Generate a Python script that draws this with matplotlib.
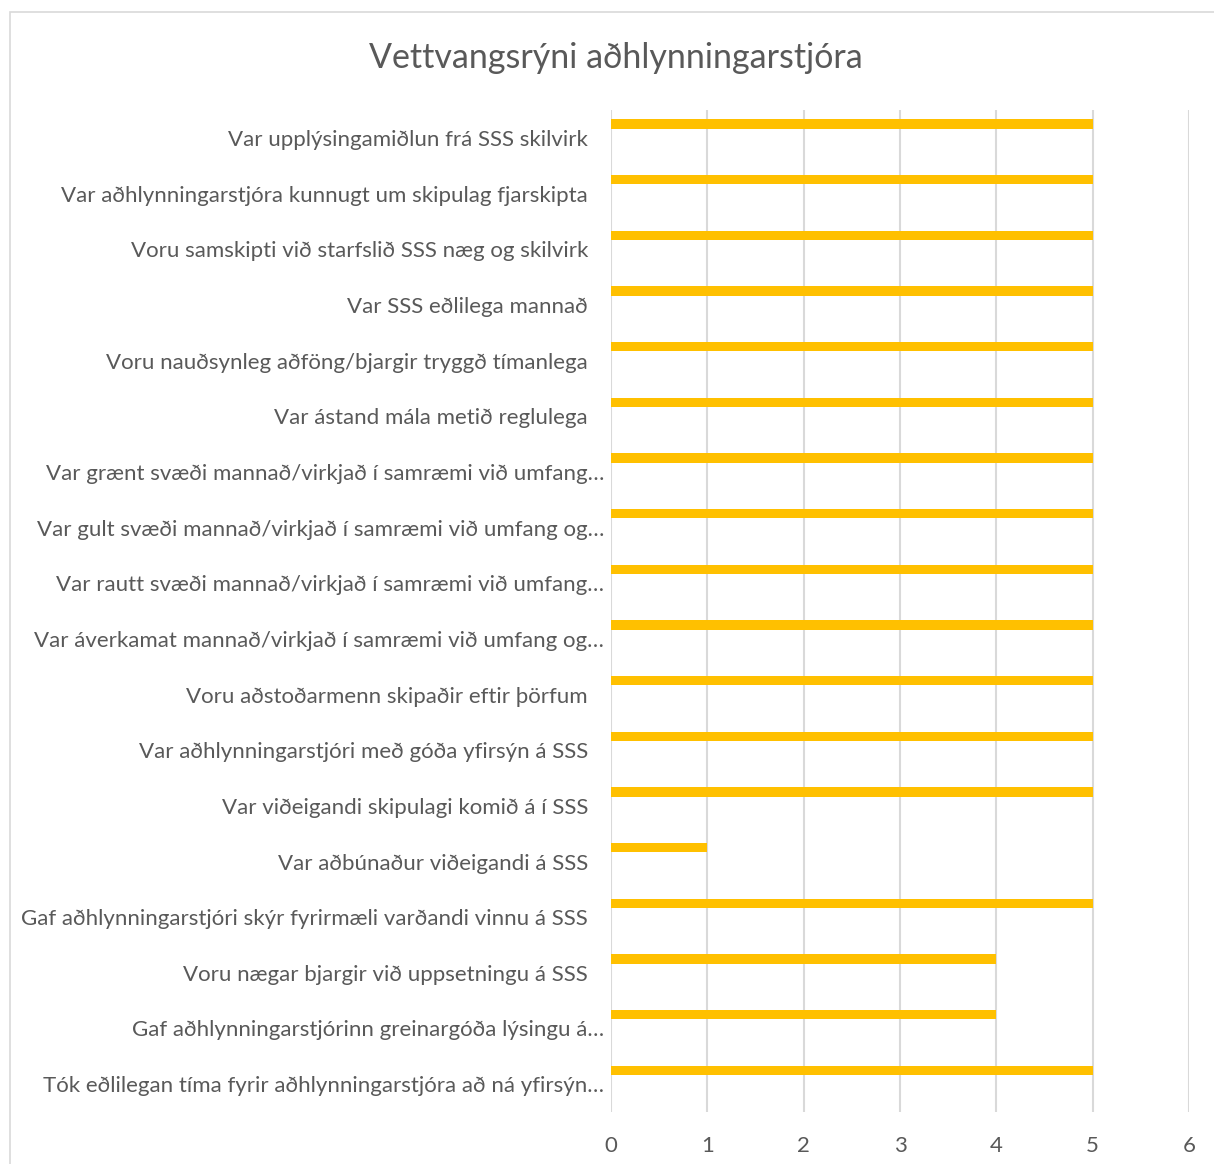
"""Horizontal bar chart: Vettvangsrýni aðhlynningarstjóra"""

import matplotlib.pyplot as plt
from matplotlib.patches import Rectangle
from matplotlib.transforms import ScaledTranslation

plt.rcParams['font.family'] = ['Lato', 'DejaVu Sans']

TITLE = "Vettvangsrýni aðhlynningarstjóra"

# questions, top to bottom as shown in the chart
QUESTIONS = [
    "Var upplýsingamiðlun frá SSS skilvirk",
    "Var aðhlynningarstjóra kunnugt um skipulag fjarskipta",
    "Voru samskipti við starfslið SSS næg og skilvirk",
    "Var SSS eðlilega mannað",
    "Voru nauðsynleg aðföng/bjargir tryggð tímanlega",
    "Var ástand mála metið reglulega",
    "Var grænt svæði mannað/virkjað í samræmi við umfang…",
    "Var gult svæði mannað/virkjað í samræmi við umfang og…",
    "Var rautt svæði mannað/virkjað í samræmi við umfang…",
    "Var áverkamat mannað/virkjað í samræmi við umfang og…",
    "Voru aðstoðarmenn skipaðir eftir þörfum",
    "Var aðhlynningarstjóri með góða yfirsýn á SSS",
    "Var viðeigandi skipulagi komið á í SSS",
    "Var aðbúnaður viðeigandi á SSS",
    "Gaf aðhlynningarstjóri skýr fyrirmæli varðandi vinnu á SSS",
    "Voru nægar bjargir við uppsetningu á SSS",
    "Gaf aðhlynningarstjórinn greinargóða lýsingu á…",
    "Tók eðlilegan tíma fyrir aðhlynningarstjóra að ná yfirsýn…",
]
SCORES = [5, 5, 5, 5, 5, 5, 5, 5, 5, 5, 5, 5, 5, 1, 5, 4, 4, 5]
X_TICKS = [0, 1, 2, 3, 4, 5, 6]

BAR_COLOR = "#FFC000"
TEXT_COLOR = "#595959"
GRID_COLOR = "#D9D9D9"

W, H = 1214, 1164
fig = plt.figure(figsize=(W / 100, H / 100), dpi=100)

# light chart frame, as in the spreadsheet export
fig.patches.append(Rectangle((10 / W, -0.05), 1.1, 1 - 12 / H + 0.05,
                             transform=fig.transFigure, fill=False,
                             edgecolor="#D9D9D9", linewidth=1.2))

ax = fig.add_axes([611 / W, 1 - 1112 / H, (1189 - 611) / W, (1112 - 110) / H])

pos = list(range(len(QUESTIONS)))
ax.barh([p - 0.25 for p in pos], SCORES, height=0.17, color=BAR_COLOR, zorder=3)

ax.set_ylim(len(QUESTIONS) - 0.5, -0.5)
ax.set_xlim(X_TICKS[0], X_TICKS[-1])
ax.set_yticks(pos)
ax.set_yticklabels(QUESTIONS, fontsize=16, color=TEXT_COLOR)
ax.set_xticks(X_TICKS)
ax.set_xticklabels([str(t) for t in X_TICKS], fontsize=16, color=TEXT_COLOR)
ax.tick_params(axis="both", length=0)
ax.tick_params(axis="y", pad=16.5)
ax.tick_params(axis="x", pad=17)

# truncated labels sit a bit further right in the original
shift = ScaledTranslation(16 / 100, 0, fig.dpi_scale_trans)
for lab in ax.get_yticklabels():
    if lab.get_text().endswith("…"):
        lab.set_transform(lab.get_transform() + shift)

ax.grid(axis="x", color=GRID_COLOR, linewidth=1.5, zorder=0)
for s in ax.spines.values():
    s.set_visible(False)

fig.text(616 / W, 1 - 58 / H, TITLE, ha="center", va="center",
         fontsize=24.5, color=TEXT_COLOR)

fig.savefig("out.png", dpi=100)
